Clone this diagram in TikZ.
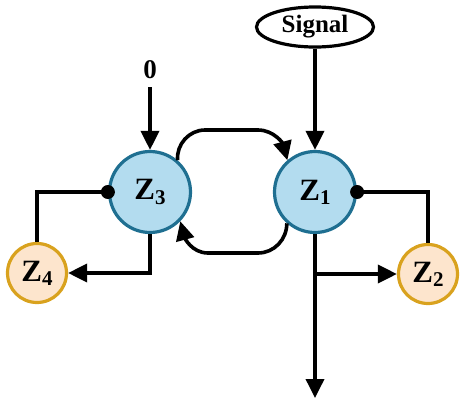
\documentclass[tikz,border=0pt]{standalone}
\usepackage{fontspec}
\setmainfont{Liberation Serif}
\usetikzlibrary{arrows.meta,shapes.geometric}
\definecolor{bfill}{HTML}{B3DCEF}
\definecolor{bdraw}{HTML}{1F6F91}
\definecolor{ofill}{HTML}{FDE5CD}
\definecolor{odraw}{HTML}{D9A21E}
\tikzset{
  bluec/.style={circle,fill=bfill,draw=bdraw,line width=3.2pt,minimum size=81pt,inner sep=0pt},
  orac/.style={circle,fill=ofill,draw=odraw,line width=3.2pt,minimum size=59pt,inner sep=0pt},
  lbl/.style={font=\fontsize{31}{33}\selectfont\bfseries},
  conn/.style={line width=3.6pt,black},
  arr/.style={conn,-{Triangle[length=19pt,width=18pt]}},
  dotc/.style={fill=black}
}
\newcommand{\zlab}[1]{Z\raisebox{-0.3ex}{\fontsize{21}{23}\selectfont #1}}
\begin{document}
\begin{tikzpicture}[x=1pt,y=-1pt]
\useasboundingbox (0,0) rectangle (468,405);
\node[bluec,lbl] (z3) at (150,192) {\zlab{3}};
\node[bluec,lbl] (z1) at (315,192) {\zlab{1}};
\node[orac,lbl] (z4) at (37,273) {\zlab{4}};
\node[orac,lbl] (z2) at (428,274) {\zlab{2}};
\node[ellipse,draw,line width=3.2pt,minimum width=117pt,minimum height=40pt,inner sep=0pt,font=\fontsize{25}{27}\selectfont\bfseries] (sig) at (315,27) {Signal};
\node[font=\fontsize{27}{29}\selectfont\bfseries,inner sep=0pt] (zero) at (150,70) {0};
\coordinate (out) at (315,398);
\coordinate (br) at (315,274);
% inputs
\draw[arr] ([yshift=-8pt]zero.south) -- (z3.north);
\draw[arr] (sig.south) -- (z1.north);
% Z3 <-> Z4
\draw[conn] (z3.west) -| (z4.north);
\fill[dotc] (z3.west) circle (7pt);
\draw[arr] (z3.south) |- (z4.east);
% Z1 <-> Z2
\draw[conn] (z1.east) -| (z2.north);
\fill[dotc] (z1.east) circle (7pt);
\draw[arr] (z1.south) -- (out);
\draw[arr] (br) -- (z2.west);
% loops between Z3 and Z1
\draw[arr] (z3.49) to[out=95,in=180] (205,130) -- (258,130) to[out=0,in=105] (z1.131);
\draw[arr] (z1.228) to[out=-90,in=0] (258,253) -- (208,253) to[out=180,in=-75] (z3.316);
\end{tikzpicture}
\end{document}
